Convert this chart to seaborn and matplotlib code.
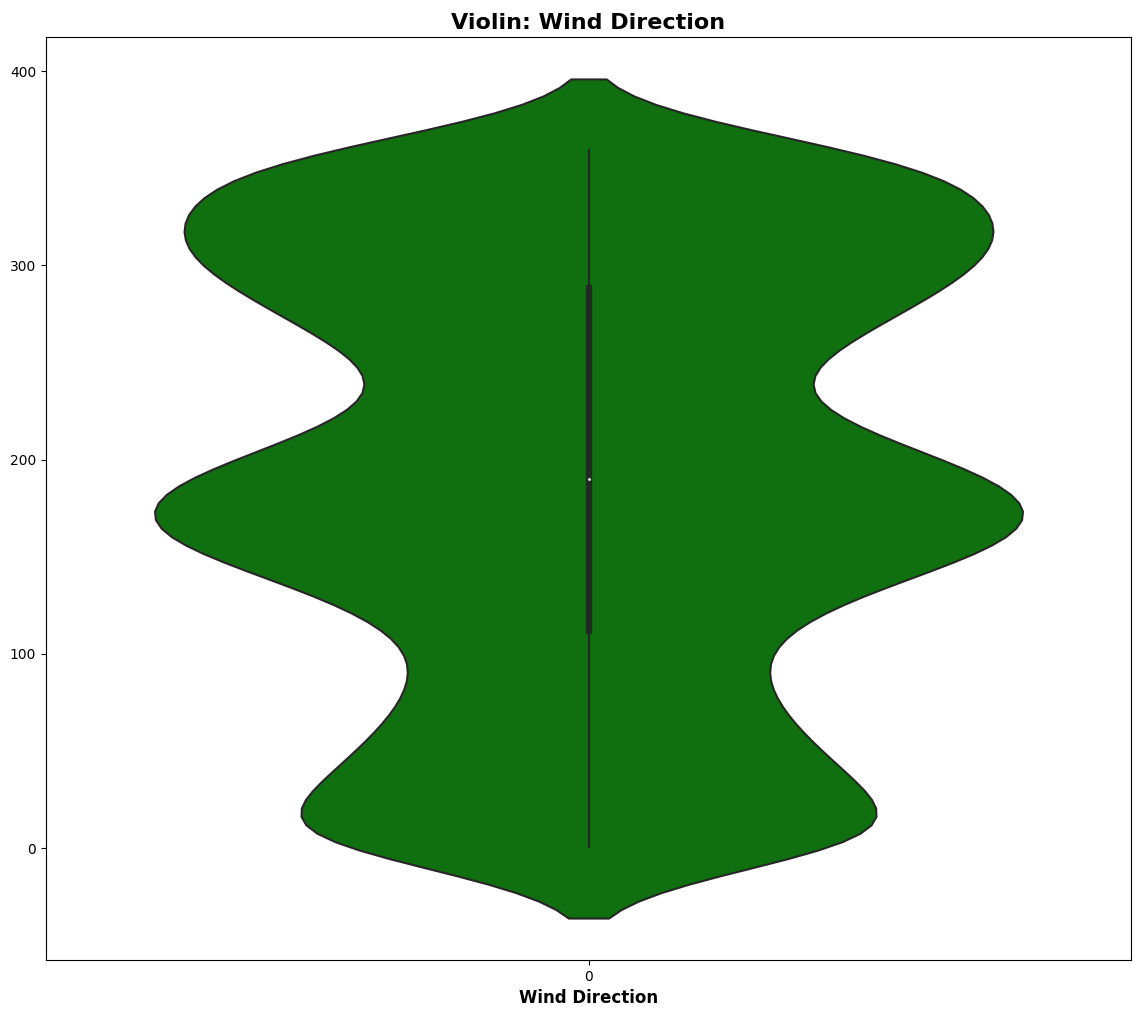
import numpy as np
import pandas as pd

import matplotlib
matplotlib.use("Agg")
import matplotlib.pyplot as plt
import seaborn as sns

# wind direction readings (degrees) as a frequency table
directions = [0, 10, 20, 30, 40, 50, 60, 70, 80, 90,
              100, 110, 120, 130, 140, 150, 160, 170, 180, 190,
              200, 210, 220, 230, 240, 250, 260, 270, 280, 290,
              300, 310, 320, 330, 340, 350, 360]
counts = [127, 60, 65, 63, 57, 51, 46, 42, 40, 37,
          36, 38, 48, 55, 72, 88, 103, 108, 102, 96,
          80, 65, 50, 42, 42, 45, 57, 67, 71, 81,
          91, 94, 94, 92, 85, 76, 104]

wind = np.repeat(directions, counts).astype(float)

# kernel width of ~18 degrees, as in the reference
bw = 18 / np.std(wind, ddof=1)
line_gray = "#262626"

fig, ax = plt.subplots(figsize=(11.41, 10.14), dpi=100)
sns.violinplot(data=[wind], color="green", bw_method=bw, inner=None,
               linecolor=line_gray, linewidth=1.5, ax=ax)

# old-style inner box: thick quartile bar, thin whiskers, white median dot
q1, med, q3 = np.percentile(wind, [25, 50, 75])
iqr = q3 - q1
lo = wind[wind >= q1 - 1.5 * iqr].min()
hi = wind[wind <= q3 + 1.5 * iqr].max()
ax.plot([0, 0], [lo, hi], color=line_gray, lw=1.5, solid_capstyle="butt")
ax.plot([0, 0], [q1, q3], color=line_gray, lw=4.5, solid_capstyle="butt")
ax.scatter(0, med, color="white", edgecolor=line_gray, s=9, zorder=3)
ax.set_xlim(-0.5, 0.5)

ax.set_title("Violin: Wind Direction", fontsize=16, fontweight="bold")
ax.set_xlabel("Wind Direction", fontsize=12, fontweight="bold")
fig.subplots_adjust(left=46 / 1141, right=1131 / 1141,
                    top=1 - 37 / 1014, bottom=1 - 960 / 1014)
fig.savefig("out.png", dpi=100)
